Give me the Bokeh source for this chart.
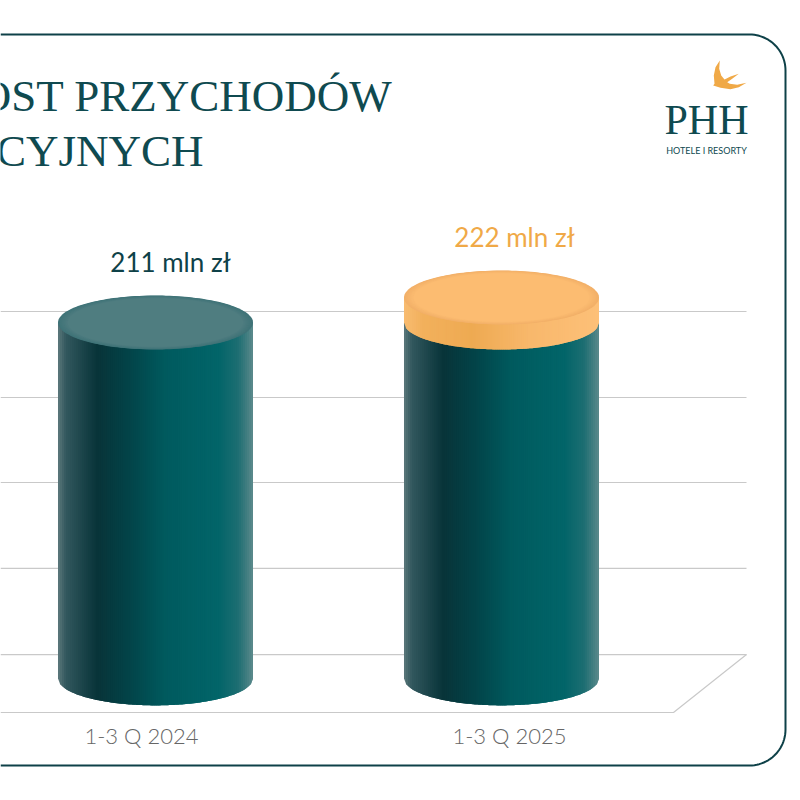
import numpy as np
from bokeh.plotting import figure
from bokeh.models import Range1d
from bokeh.core.properties import value
from bokeh.embed import file_html
from bokeh.resources import INLINE

# ---- chart data ----
categories = ["1-3 Q 2024", "1-3 Q 2025"]
revenue = [211, 222]
value_labels = ["211 mln zł", "222 mln zł"]
title_lines = ["OST PRZYCHODÓW", "ACYJNYCH"]
grid_levels = [215.84, 178.0, 140.6, 102.8, 64.9]
floor_level = 39.4
base_level = 54.4

TEAL = "#0e4148"
ORANGE = "#f0a947"
GREY = "#c9c9c9"

# pixel <-> data helpers for the page furniture
Y0, Y1 = 0.68, 352.68
X0, X1 = -155 / 346, 645 / 346
def fx(px): return X0 + (np.asarray(px, float)) * (X1 - X0) / 800
def fy(py): return Y1 - (np.asarray(py, float)) * (Y1 - Y0) / 800

p = figure(width=800, height=800, output_backend="svg", toolbar_location=None,
           x_range=Range1d(X0, X1), y_range=Range1d(Y0, Y1),
           min_border=0, outline_line_color=None,
           background_fill_color="white", border_fill_color="white")
p.xaxis.visible = False
p.yaxis.visible = False
p.grid.visible = False

# rounded card
r = 36
def arc(cx, cy, a0, a1):
    a = np.radians(np.linspace(a0, a1, 24))
    return cx + r * np.cos(a), cy + r * np.sin(a)
ax1, ay1 = arc(785 - r, 34 + r, -90, 0)
ax2, ay2 = arc(785 - r, 765 - r, 0, 90)
bx = np.r_[0, ax1, ax2, 0]
by = np.r_[34, ay1, ay2, 765]
p.line(fx(bx), fy(by), line_color=TEAL, line_width=2)

# grid / floor
for lv in grid_levels:
    p.line(fx([0, 746]), [lv, lv], line_color=GREY, line_width=1.2)
p.line(fx([0, 673, 746]), [floor_level, floor_level, grid_levels[-1]], line_color=GREY, line_width=1.2)

# cylinders
half = 0.2818            # half width (data)
ry = 27 * (Y1 - Y0) / 800
T = np.linspace(-1, 1, 97)

def mix(stops, t):
    xs = [s[0] for s in stops]
    rgb = [np.interp(t, xs, [s[1][k] for s in stops]) for k in range(3)]
    return "#%02x%02x%02x" % tuple(int(round(v)) for v in rgb)

body_stops = [(-1, (92, 120, 124)), (-0.92, (50, 88, 94)), (-0.6, (8, 52, 57)), (-0.3, (3, 66, 71)),
              (0.1, (0, 90, 94)), (0.65, (2, 101, 105)), (0.85, (30, 110, 114)), (1, (92, 138, 140))]
band_stops = [(-1, (248, 188, 112)), (-0.8, (242, 176, 92)), (-0.3, (238, 170, 82)),
              (0.3, (248, 184, 108)), (1, (253, 192, 120))]

def strips(cx, top, bottom, stops):
    # painted left to right, each one overlapping the next, so no seams show
    for i, a in enumerate(T[:-1]):
        b = T[min(i + 2, len(T) - 1)]
        m = T[i + 1]
        ts = np.array([a, m, b])
        sag = np.sqrt(np.clip(1 - ts * ts, 0, 1)) * ry
        xs = np.r_[ts, ts[::-1]]
        ys = np.r_[[top] * 3, (bottom - sag)[::-1]]
        p.patch(cx + xs * half, ys, fill_color=mix(stops, (a + m) / 2), line_color=None)

def ellipse(cx, cy, color, scale=1.0):
    a = np.linspace(0, 2 * np.pi, 160)
    p.patch(cx + half * scale * np.cos(a), cy + ry * scale * np.sin(a), fill_color=color, line_color=None)

def disc(cx, cy, edge, face, steps=10, inner=0.9):
    e = np.array([int(edge[i:i + 2], 16) for i in (1, 3, 5)])
    f = np.array([int(face[i:i + 2], 16) for i in (1, 3, 5)])
    for s, w in zip(np.linspace(1, inner, steps), np.linspace(0, 1, steps)):
        c = e + (f - e) * w
        ellipse(cx, cy, "#%02x%02x%02x" % tuple(int(v) for v in c), s)

# 2024
strips(0, revenue[0], base_level, body_stops)
disc(0, revenue[0], "#3f7378", "#4f7d80")

# 2025
strips(1, revenue[0], base_level, body_stops)
strips(1, revenue[1], revenue[0], band_stops)
disc(1, revenue[1], "#f2b068", "#fcbc71")

# value labels
p.text(fx([170, 514]), fy([261, 236]), text=value_labels, text_color=[TEAL, ORANGE],
       text_font=value("Lato"), text_font_size="26px", text_align="center", text_baseline="middle")
# category labels
p.text(fx([141, 509]), fy([735, 735]), text=categories, text_color="#666666",
       text_font=value("Lato Light"), text_font_size="22px", text_align="center", text_baseline="middle")
# title
p.text(fx([392, 203]), fy([95, 150]), text=title_lines, text_color="#0f4a50",
       text_font=value("Liberation Serif"), text_font_size="45px", text_align="right", text_baseline="middle")

# logo
swallow_x = [719.3, 715, 713.3, 714, 712.7, 720, 730, 738.3, 746, 736.7, 729.3, 726.7, 731.7, 738.3, 730, 724, 720.7, 718.7]
swallow_y = [60, 66.7, 75, 83.3, 85, 87.3, 88.7, 86.7, 82.3, 84.3, 83.3, 81.7, 78.3, 73.3, 76, 79, 75, 68.3]
p.patch(fx(swallow_x), fy(swallow_y), fill_color=ORANGE, line_color=None)
p.text(fx([706]), fy([119]), text=["PHH"], text_color="#0f4a50", text_font=value("Liberation Serif"),
       text_font_size="42px", text_align="center", text_baseline="middle")
p.text(fx([706]), fy([150]), text=["HOTELE I RESORTY"], text_color="#0f4a50", text_font=value("Lato"),
       text_font_size="9px", text_align="center", text_baseline="middle")

open("out.html", "w").write(file_html(p, INLINE))
